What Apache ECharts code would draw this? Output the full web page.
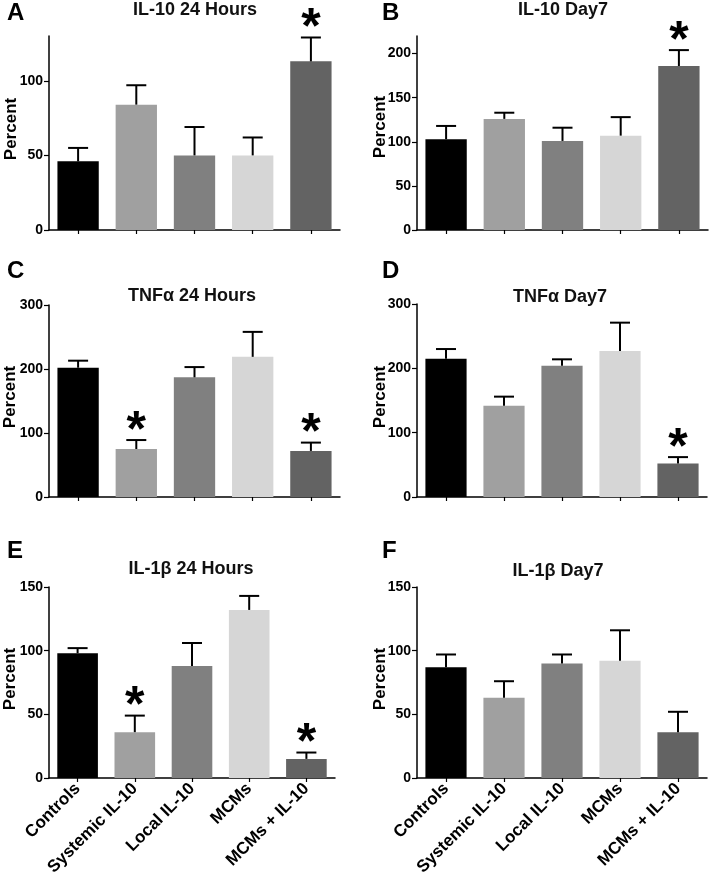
<!DOCTYPE html>
<html>
<head>
<meta charset="utf-8">
<script src="https://cdn.jsdelivr.net/npm/echarts@6/dist/echarts.min.js"></script>
<style>
html,body{margin:0;padding:0;background:#fff;}
#chart{width:709px;height:872px;}
</style>
</head>
<body>
<div id="chart"></div>
<script>
// ---- data ----
const categories = ['Controls', 'Systemic IL-10', 'Local IL-10', 'MCMs', 'MCMs + IL-10'];
const barColors = ['#000000', '#a0a0a0', '#808080', '#d6d6d6', '#636363'];

const titles = ['IL-10 24 Hours', 'IL-10 Day7', 'TNF\u03b1 24 Hours', 'TNF\u03b1 Day7', 'IL-1\u03b2 24 Hours', 'IL-1\u03b2 Day7'];
const letters = ['A', 'B', 'C', 'D', 'E', 'F'];
const yName = 'Percent';

const meanA = [46, 84, 50, 50, 113];
const errA  = [9, 13, 19, 12, 16];
const sigA  = [0, 0, 0, 0, 1];

const meanB = [103, 126, 101, 107, 186];
const errB  = [15, 7, 15, 21, 18];
const sigB  = [0, 0, 0, 0, 1];

const meanC = [202, 75, 187, 219, 72];
const errC  = [11, 14, 16, 39, 13];
const sigC  = [0, 1, 0, 0, 1];

const meanD = [215, 142, 204, 227, 52];
const errD  = [15, 14, 10, 44, 10];
const sigD  = [0, 0, 0, 0, 1];

const meanE = [98, 36, 88, 132, 15];
const errE  = [4, 13, 18, 11, 5];
const sigE  = [0, 1, 0, 0, 1];

const meanF = [87, 63, 90, 92, 36];
const errF  = [10, 13, 7, 24, 16];
const sigF  = [0, 0, 0, 0, 0];

const yMax = [130, 220, 300, 300, 150, 150];
const yTicks = [[0, 50, 100], [0, 50, 100, 150, 200], [0, 100, 200, 300], [0, 100, 200, 300], [0, 50, 100, 150], [0, 50, 100, 150]];

const means = [meanA, meanB, meanC, meanD, meanE, meanF];
const errs = [errA, errB, errC, errD, errE, errF];
const sigs = [sigA, sigB, sigC, sigD, sigE, sigF];

// ---- layout ----
const grids = [
  {left: 49, top: 36, width: 291, height: 194},
  {left: 417, top: 36, width: 291, height: 194},
  {left: 49, top: 305, width: 291, height: 192},
  {left: 417, top: 304, width: 290, height: 193},
  {left: 49, top: 587, width: 286, height: 191},
  {left: 417, top: 587, width: 290, height: 191}
];
const titlePos = [
  {x: 195, y: 1}, {x: 563, y: 1},
  {x: 192, y: 287}, {x: 560, y: 288},
  {x: 191, y: 560}, {x: 558, y: 562}
];
const letterPos = [
  {x: 7, y: 1}, {x: 382, y: 1},
  {x: 7, y: 259}, {x: 382, y: 259},
  {x: 7, y: 539}, {x: 382, y: 539}
];
const namePos = [
  {x: 11, y: 129}, {x: 380, y: 127},
  {x: 10, y: 397}, {x: 380, y: 397},
  {x: 10, y: 679}, {x: 380, y: 679}
];

const FONT = '"Liberation Sans", Arial, Helvetica, sans-serif';

const option = {
  backgroundColor: '#fff',
  animation: false,
  textStyle: {fontFamily: FONT},
  title: [],
  grid: [],
  xAxis: [],
  yAxis: [],
  series: [],
  graphic: []
};

for (let p = 0; p < 6; p++) {
  option.title.push({
    text: titles[p], left: titlePos[p].x, top: titlePos[p].y, textAlign: 'center', padding: 0,
    textStyle: {fontSize: 18, fontWeight: 'bold', color: '#111', fontFamily: FONT}
  });
  option.title.push({
    text: letters[p], left: letterPos[p].x, top: letterPos[p].y, padding: 0,
    textStyle: {fontSize: 24, fontWeight: 'bold', color: '#000', fontFamily: FONT}
  });
  option.graphic.push({
    type: 'text', x: namePos[p].x, y: namePos[p].y, rotation: Math.PI / 2, z: 10,
    style: {
      text: yName, align: 'center', verticalAlign: 'middle',
      font: 'bold 17px ' + FONT, fill: '#000'
    }
  });
  option.grid.push(Object.assign({containLabel: false, outerBoundsMode: 'none'}, grids[p]));
  const showX = p >= 4;
  option.xAxis.push({
    type: 'category', gridIndex: p, data: categories,
    axisLine: {show: true, lineStyle: {color: '#000', width: 1.5}},
    axisTick: {show: true, alignWithLabel: true, length: 4, lineStyle: {color: '#000', width: 1.2}},
    axisLabel: {
      show: showX, rotate: 45, interval: 0, margin: 8,
      fontSize: 17, fontWeight: 'bold', color: '#000', fontFamily: FONT
    },
    splitLine: {show: false}
  });
  option.yAxis.push({
    type: 'value', gridIndex: p, min: 0, max: yMax[p],
    axisLine: {show: true, lineStyle: {color: '#000', width: 1.5}},
    axisTick: {show: true, length: 5, customValues: yTicks[p], lineStyle: {color: '#000', width: 1.2}},
    axisLabel: {
      customValues: yTicks[p], margin: 6,
      fontSize: 14, fontWeight: 'bold', color: '#000', fontFamily: FONT
    },
    splitLine: {show: false}
  });
  option.series.push({
    type: 'bar', xAxisIndex: p, yAxisIndex: p,
    barCategoryGap: '29%',
    data: means[p].map((v, i) => ({value: v, itemStyle: {color: barColors[i]}})),
    z: 2
  });
  option.series.push({
    type: 'custom', xAxisIndex: p, yAxisIndex: p, z: 3,
    encode: {x: 0, y: 1},
    data: means[p].map((v, i) => [i, v, errs[p][i], sigs[p][i]]),
    renderItem: function (params, api) {
      const idx = api.value(0);
      const m = api.value(1);
      const e = api.value(2);
      const s = api.value(3);
      const base = api.coord([idx, m]);
      const top = api.coord([idx, m + e]);
      const half = 10;
      const children = [
        {type: 'line', shape: {x1: base[0], y1: base[1], x2: top[0], y2: top[1]},
         style: {stroke: '#000', lineWidth: 2}},
        {type: 'line', shape: {x1: top[0] - half, y1: top[1], x2: top[0] + half, y2: top[1]},
         style: {stroke: '#000', lineWidth: 2}}
      ];
      if (s) {
        children.push({
          type: 'text',
          style: {
            text: '*', x: top[0], y: top[1] - 8,
            align: 'center', verticalAlign: 'middle',
            font: 'bold 50px ' + FONT, fill: '#000'
          }
        });
      }
      return {type: 'group', children: children};
    }
  });
}

const chart = echarts.init(document.getElementById('chart'), null, {renderer: 'canvas'});
chart.setOption(option);
</script>
</body>
</html>
